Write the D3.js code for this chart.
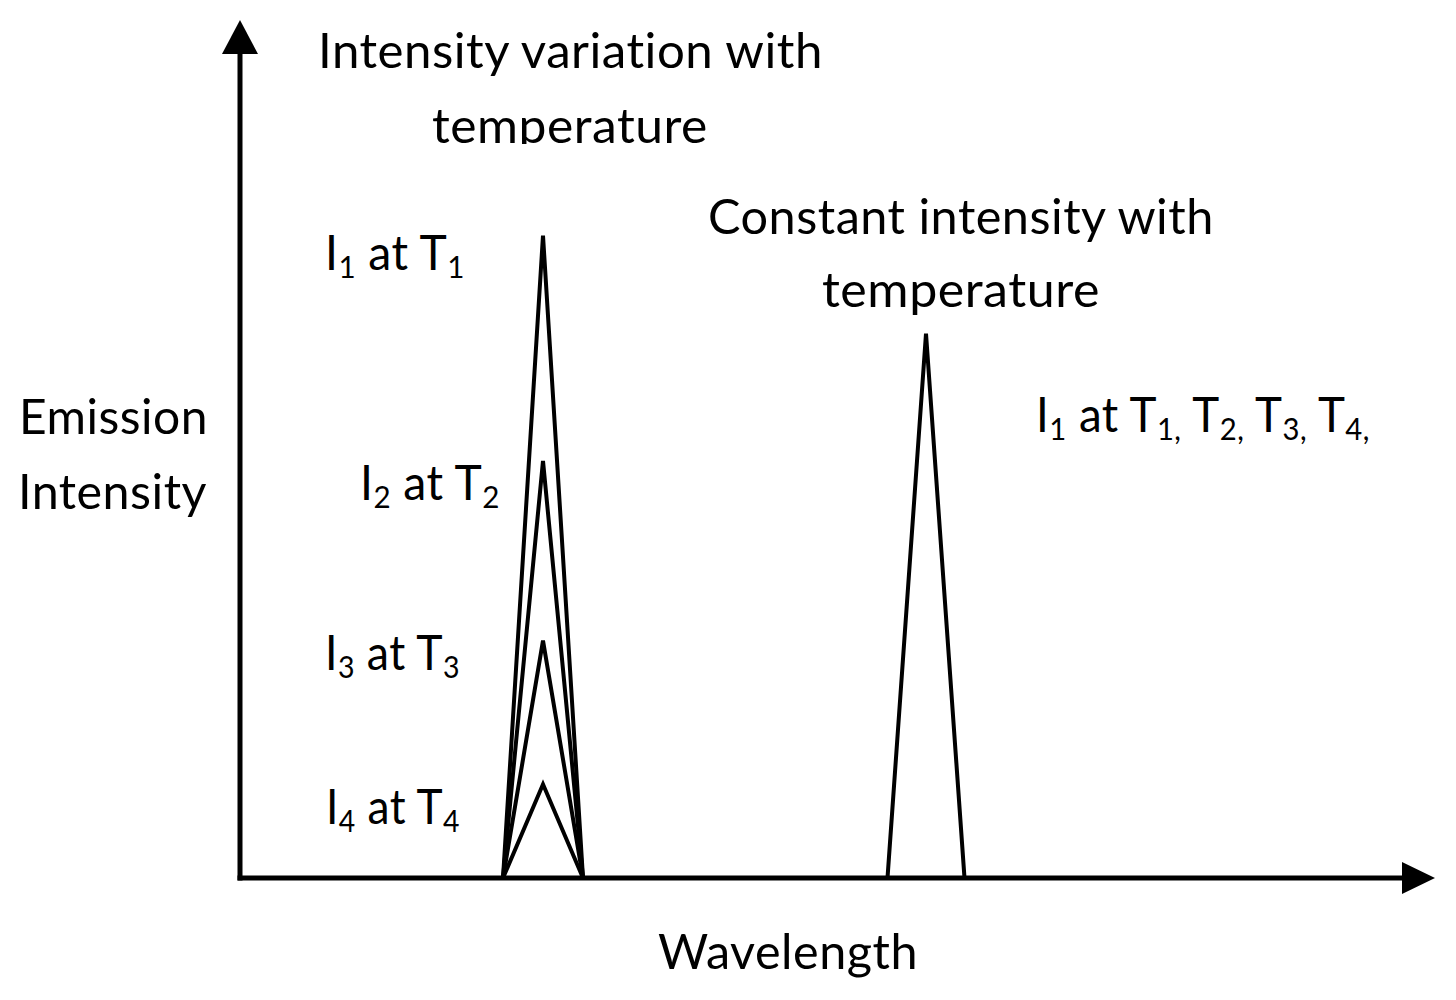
<!DOCTYPE html>
<html>
<head>
<meta charset="utf-8">
<script src="https://cdn.jsdelivr.net/npm/d3@7"></script>
<style>
  html, body { margin: 0; padding: 0; background: #fff; }
  svg { display: block; }
</style>
</head>
<body>
<script>
// wavelength units (arbitrary), intensity units (arbitrary, 0-100)
const peakCentres = [30.3, 68.6];
const peakHalfWidths = [4.0, 3.85];
const variableIntensities = [74.7, 48.5, 27.6, 10.9];   // I1..I4 at T1..T4
const constantIntensity = [63.3];
const subscripts = ["1", "2", "3", "4"];

const width = 1456;
const height = 1000;
const font = "Lato, 'Open Sans', sans-serif";
const fontSize = 49;
const subShift = 8;

const svg = d3.select("body").append("svg")
    .attr("width", width)
    .attr("height", height);

svg.append("rect").attr("width", width).attr("height", height).attr("fill", "white");

let xScale = d3.scaleLinear().domain([0, 120]).range([240, 1440]);
let yScale = d3.scaleLinear().domain([0, 100]).range([878, 18]);

const line = d3.line().x(d => xScale(d[0])).y(d => yScale(d[1]));

// peaks
const left = peakCentres[0], lw = peakHalfWidths[0];
variableIntensities.forEach(function(h) {
  svg.append("path")
    .attr("d", line([[left - lw, 0], [left, h], [left + lw, 0]]))
    .attr("fill", "none")
    .attr("stroke", "black")
    .attr("stroke-width", 4);
});

const right = peakCentres[1], rw = peakHalfWidths[1];
constantIntensity.forEach(function(h) {
  svg.append("path")
    .attr("d", line([[right - rw, 0], [right, h], [right + rw, 0]]))
    .attr("fill", "none")
    .attr("stroke", "black")
    .attr("stroke-width", 4);
});

// axes with arrow heads
const x0 = xScale(0), y0 = yScale(0);
const xEnd = 1435, yEnd = 20;
svg.append("line")
  .attr("x1", x0).attr("y1", y0 + 2.5).attr("x2", x0).attr("y2", yEnd + 30)
  .attr("stroke", "black").attr("stroke-width", 5);
svg.append("line")
  .attr("x1", x0 - 2.5).attr("y1", y0).attr("x2", xEnd - 30).attr("y2", y0)
  .attr("stroke", "black").attr("stroke-width", 5);
svg.append("path")
  .attr("d", `M${x0},${yEnd}L${x0 - 18},${yEnd + 34}L${x0 + 18},${yEnd + 34}Z`)
  .attr("fill", "black");
svg.append("path")
  .attr("d", `M${xEnd},${y0}L${xEnd - 33},${y0 - 16}L${xEnd - 33},${y0 + 16}Z`)
  .attr("fill", "black");

// clip for the cut-off first "temperature"
svg.append("clipPath").attr("id", "cut")
  .append("rect").attr("x", 0).attr("y", 0).attr("width", width).attr("height", 144);

// text helper: left x, baseline y, target width
function addText(parts, x, y, w, clip) {
  let holder = clip ? svg.append("g").attr("clip-path", "url(#cut)") : svg;
  const g = holder.append("g").attr("transform", `translate(${x},${y})`);
  const t = g.append("text")
    .attr("x", 0).attr("y", 0)
    .attr("font-family", font)
    .attr("font-size", fontSize)
    .attr("letter-spacing", 0.5)
    .style("font-variant-ligatures", "none")
    .style("font-feature-settings", "'liga' 0, 'clig' 0, 'dlig' 0")
    .attr("fill", "black");
  let shifted = false;
  parts.forEach(function(p) {
    if (typeof p === "string") {
      t.append("tspan").attr("dy", shifted ? -subShift : 0).text(p);
      shifted = false;
    } else {
      t.append("tspan").attr("font-size", fontSize * 0.64).attr("dy", shifted ? 0 : subShift).text(p.sub);
      shifted = true;
    }
  });
  const bb = t.node().getBBox();
  const sx = w / bb.width;
  t.attr("transform", `scale(${sx},1)`).attr("x", -bb.x);
}

addText(["Intensity variation with"], 318, 68, 505);
addText(["temperature"], 432, 143, 276, true);
addText(["Constant intensity with"], 708, 234, 506);
addText(["temperature"], 822, 307, 278);
addText(["Emission"], 19, 434, 189);
addText(["Intensity"], 18, 509, 189);
addText(["Wavelength"], 658, 969, 260);

const varLabelPos = [[325, 270, 140], [360, 500, 140], [325, 670, 135], [326, 824, 134]];
subscripts.forEach(function(s, i) {
  const p = varLabelPos[i];
  addText(["I", {sub: s}, " at T", {sub: s}], p[0], p[1], p[2]);
});

addText(["I", {sub: subscripts[0]}, " at T",
  {sub: subscripts[0] + ","}, " T", {sub: subscripts[1] + ","},
  " T", {sub: subscripts[2] + ","}, " T", {sub: subscripts[3] + ","}], 1036, 432, 334);
</script>
</body>
</html>
